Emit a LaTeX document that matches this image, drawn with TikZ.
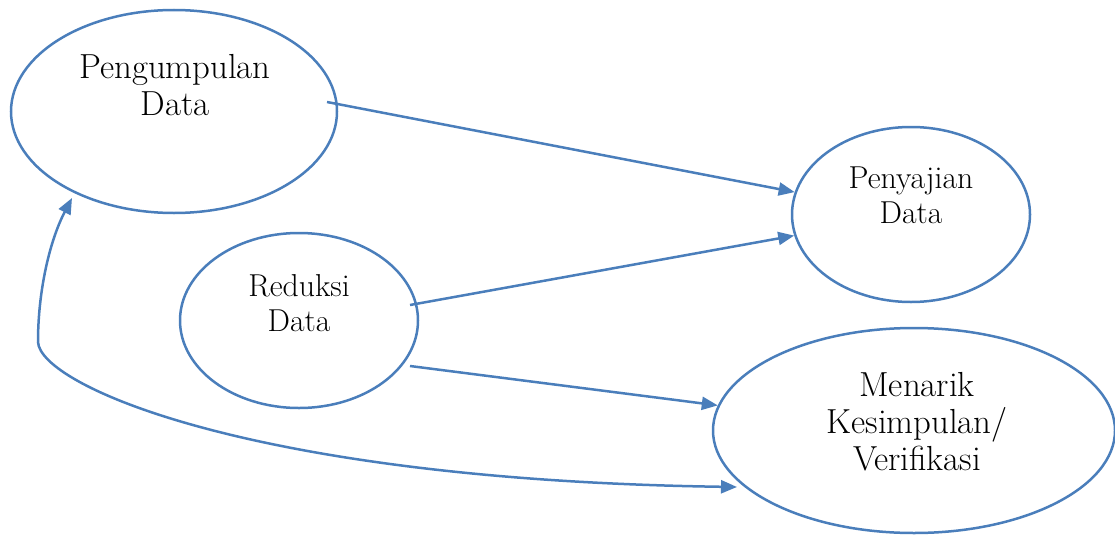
\documentclass[tikz,border=0pt]{standalone}
\usetikzlibrary{arrows.meta,shapes.geometric}
\definecolor{lineblue}{RGB}{74,126,187}
\begin{document}
\begin{tikzpicture}[x=1pt,y=-1pt,
  oval/.style={draw=lineblue,line width=2.5pt,ellipse,inner sep=0pt},
  bigtext/.style={align=center,inner sep=0pt,anchor=base,font=\fontsize{34.8}{37}\selectfont},
  smalltext/.style={align=center,inner sep=0pt,anchor=base,font=\fontsize{31.7}{34.5}\selectfont},
  arr/.style={draw=lineblue,line width=2.5pt,-{Triangle[length=16pt,width=13pt]}},
  darr/.style={draw=lineblue,line width=2.5pt,{Triangle[length=16pt,width=13pt]}-{Triangle[length=16pt,width=13pt]}}]
\useasboundingbox (0,0) rectangle (1115,535);
\begin{scope}
\clip (0,0) rectangle (1115,535);
\node[oval,minimum width=326pt,minimum height=203pt] (e1) at (174,111.5) {};
\node[oval,minimum width=238pt,minimum height=175pt] (e2) at (911,214.5) {};
\node[oval,minimum width=238pt,minimum height=175pt] (e3) at (299,320.5) {};
\node[oval,minimum width=402pt,minimum height=205pt] (e4) at (914,430.5) {};
\end{scope}
\node[bigtext] (t1) at (175,115) {Pengumpulan\\Data};
\node[smalltext] (t2) at (911,223) {Penyajian\\Data};
\node[smalltext] (t3) at (299,331) {Reduksi\\Data};
\node[bigtext] (t4) at (917,470) {Menarik\\Kesimpulan/\\Verifikasi};
\coordinate (s1) at (327,102);
\coordinate (s2) at (410,305);
\coordinate (s3) at (410,366);
\coordinate (cTop) at (72,198);
\coordinate (cBend) at (38,342);
\coordinate (cEnd) at (737,487);
\draw[arr] (s1) -- (e2);
\draw[arr] (s2) -- (e2);
\draw[arr] (s3) -- (e4);
\draw[darr] (cTop) .. controls (50,240) and (38,290) .. (cBend) .. controls (40,385) and (250,480) .. (cEnd);
\end{tikzpicture}
\end{document}
